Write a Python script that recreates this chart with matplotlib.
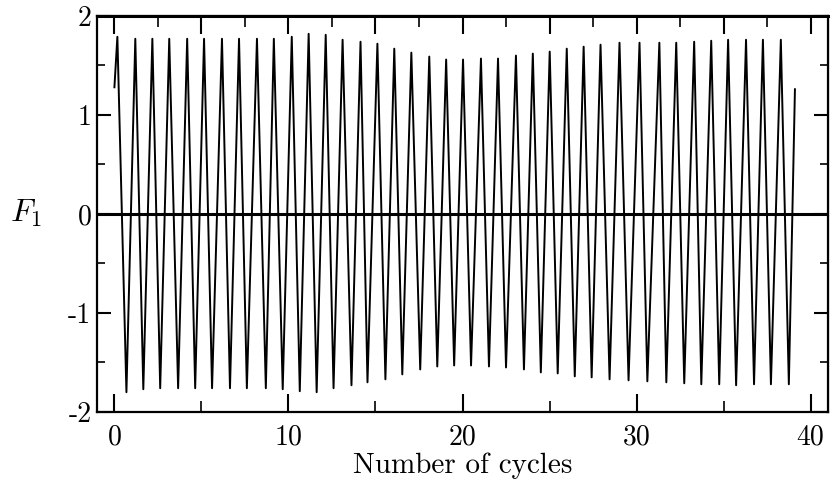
import numpy as np
import matplotlib
matplotlib.use("Agg")
import matplotlib.pyplot as plt
from matplotlib.ticker import MultipleLocator, FixedLocator

plt.rcParams['font.family'] = ['cmr10', 'DejaVu Serif']
plt.rcParams['mathtext.fontset'] = 'cm'
plt.rcParams['axes.formatter.use_mathtext'] = True

# signal turning points: peaks and troughs of F1 per cycle
peak_x = [0.17, 1.20, 2.18, 3.15, 4.18, 5.15, 6.18, 7.16, 8.19, 9.16,
          10.19, 11.16, 12.14, 13.11, 14.14, 15.11, 16.08, 17.06, 18.09, 19.06,
          20.03, 21.06, 22.04, 23.07, 24.04, 25.01, 25.99, 26.96, 27.93, 29.02,
          30.17, 31.31, 32.28, 33.31, 34.29, 35.26, 36.29, 37.26, 38.29]
peak_y = [1.79, 1.77, 1.77, 1.77, 1.77, 1.77, 1.77, 1.77, 1.77, 1.77,
          1.79, 1.82, 1.81, 1.76, 1.74, 1.72, 1.67, 1.63, 1.59, 1.56,
          1.56, 1.57, 1.57, 1.60, 1.62, 1.64, 1.67, 1.69, 1.71, 1.73,
          1.73, 1.73, 1.73, 1.74, 1.75, 1.76, 1.76, 1.76, 1.76]
trough_x = [0.69, 1.66, 2.63, 3.66, 4.64, 5.61, 6.64, 7.61, 8.70, 9.67,
            10.65, 11.62, 12.59, 13.62, 14.54, 15.57, 16.54, 17.57, 18.55, 19.52,
            20.49, 21.52, 22.50, 23.53, 24.50, 25.47, 26.45, 27.42, 28.45, 29.54,
            30.62, 31.71, 32.74, 33.72, 34.75, 35.72, 36.75, 37.72, 38.75]
trough_y = [-1.80, -1.77, -1.76, -1.76, -1.76, -1.76, -1.76, -1.76, -1.76, -1.77,
            -1.79, -1.80, -1.76, -1.73, -1.70, -1.67, -1.62, -1.57, -1.54, -1.53,
            -1.53, -1.54, -1.55, -1.57, -1.60, -1.61, -1.64, -1.65, -1.67, -1.68,
            -1.69, -1.70, -1.71, -1.72, -1.72, -1.73, -1.72, -1.72, -1.72]
start_pt = (0.0, 1.28)
end_pt = (39.10, 1.26)

# interleave peaks and troughs into one polyline
xs = [start_pt[0]]
ys = [start_pt[1]]
for px, py, tx, ty in zip(peak_x, peak_y, trough_x, trough_y):
    xs += [px, tx]
    ys += [py, ty]
xs.append(end_pt[0])
ys.append(end_pt[1])

fig = plt.figure(figsize=(8.32, 4.79), dpi=100)
ax = fig.add_axes([0.1166, 0.1399, 0.8786, 0.8267])

ax.plot(xs, ys, color='black', lw=1.4)
ax.axhline(0, color='black', lw=2.2)

ax.set_xlim(-1, 41)
ax.set_ylim(-2, 2)

for s in ax.spines.values():
    s.set_linewidth(1.6)

# bottom axis
ax.set_xticks([0, 10, 20, 30, 40])
ax.set_xticklabels(['0', '10', '20', '30', '40'])
ax.xaxis.set_minor_locator(FixedLocator([5, 15, 25, 35]))
ax.tick_params(axis='x', which='major', direction='in', length=13, width=1.5,
               labelsize=20, pad=9)
ax.tick_params(axis='x', which='minor', direction='in', length=8, width=1.2)

# left axis
ax.set_yticks([-2, -1, 0, 1, 2])
ax.set_yticklabels(['-2', '-1', '0', '1', '2'])
ax.yaxis.set_minor_locator(MultipleLocator(0.5))
ax.tick_params(axis='y', which='major', direction='in', length=10, width=1.5,
               labelsize=20, pad=4)
ax.tick_params(axis='y', which='minor', direction='in', length=6, width=1.2)

# top axis: ticks every 5 with minors at 2.5, no labels
top = ax.secondary_xaxis('top')
top.set_xticks([0, 5, 10, 15, 20, 25, 30, 35, 40])
top.xaxis.set_minor_locator(MultipleLocator(2.5))
top.tick_params(which='major', direction='in', length=13, width=1.5, labeltop=False)
top.tick_params(which='minor', direction='in', length=8, width=1.2)
top.spines['top'].set_linewidth(2.2)

# right axis: same ticks as left, no labels
right = ax.secondary_yaxis('right')
right.set_yticks([-2, -1, 0, 1, 2])
right.yaxis.set_minor_locator(MultipleLocator(0.5))
right.tick_params(which='major', direction='in', length=10, width=1.5, labelright=False)
right.tick_params(which='minor', direction='in', length=6, width=1.2)

ax.set_xlabel('Number of cycles', fontsize=21, labelpad=1)
fig.text(0.031, 0.555, r'$F_1$', fontsize=23, ha='center', va='center')

fig.savefig('out.png', dpi=100)
